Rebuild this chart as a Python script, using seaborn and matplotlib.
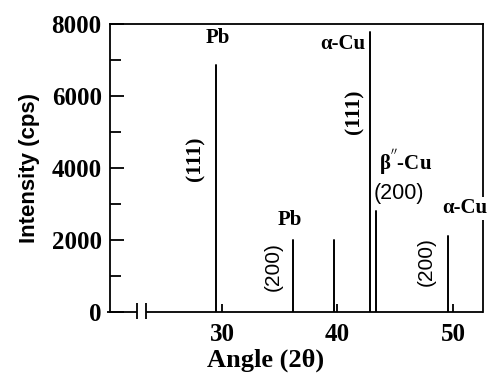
import matplotlib
matplotlib.use("Agg")
import matplotlib.pyplot as plt
import seaborn as sns
import pandas as pd
from matplotlib.ticker import MultipleLocator

# ---- data ----
peak_names = ["Pb(111)", "Pb(200)", "peak40", "aCu(111)", "bCu(200)", "aCu(200)"]
peak_angles = [29.5, 36.15, 39.7, 42.8, 43.3, 49.55]
peak_intensity = [6850, 2000, 2000, 7780, 2800, 2100]
x_ticks = [30, 40, 50]
y_ticks = [0, 2000, 4000, 6000, 8000]

rows = []
for n, a, h in zip(peak_names, peak_angles, peak_intensity):
    rows.append({"peak": n, "angle": a, "intensity": 0})
    rows.append({"peak": n, "angle": a, "intensity": h})
df = pd.DataFrame(rows)

sns.set_theme(style="white")
plt.rcParams["font.family"] = ["Liberation Serif", "DejaVu Serif"]

fig = plt.figure(figsize=(4.92, 3.77), dpi=100)
ax = fig.add_axes([0.2236, 0.1724, 0.7581, 0.7639])

sns.lineplot(data=df, x="angle", y="intensity", units="peak", estimator=None,
             color="black", lw=1.4, ax=ax, legend=False, sort=False)

XMIN, XMAX = 20.3, 52.6
ax.set_xlim(XMIN, XMAX)
ax.set_ylim(0, 8000)
ax.set_xticks(x_ticks)
ax.set_yticks(y_ticks)
ax.yaxis.set_minor_locator(MultipleLocator(1000))

for s in ax.spines.values():
    s.set_color("black")
    s.set_linewidth(1.3)
ax.spines["bottom"].set_visible(False)
# broken bottom axis
ax.hlines(0, XMIN - 0.3, 22.6, color="black", lw=1.3, clip_on=False)
ax.hlines(0, 23.45, XMAX, color="black", lw=1.3, clip_on=False)
ax.vlines([22.6, 23.45], -200, 250, color="black", lw=1.3, clip_on=False)

ax.tick_params(axis="y", which="major", direction="in", length=10, width=1.3,
               colors="black", pad=6, labelsize=18, left=True)
ax.tick_params(axis="y", which="minor", direction="in", length=8, width=1.3,
               colors="black", left=True)
ax.tick_params(axis="x", which="major", direction="in", length=6, width=1.3,
               colors="black", pad=8, labelsize=18, bottom=True)
for lab in ax.get_xticklabels() + ax.get_yticklabels():
    lab.set_fontweight("bold")

ax.set_xlabel("Angle (2θ)", fontsize=19, fontweight="bold", color="black")
ax.xaxis.set_label_coords(0.418, -0.128)
ax.set_ylabel("Intensity (cps)", fontsize=16, fontweight="bold", color="black",
              family=["Liberation Sans", "DejaVu Sans"], labelpad=8)

bold = dict(fontweight="bold", color="black")
ax.text(29.6, 7600, "Pb", fontsize=15, ha="center", va="center", **bold)
ax.text(27.7, 4250, "(111)", fontsize=15.5, rotation=90, ha="center", va="center", **bold)
ax.text(35.9, 2550, "Pb", fontsize=15, ha="center", va="center", **bold)
ax.text(34.4, 1250, "(200)", fontsize=15, rotation=90, ha="center", va="center",
        family=["Liberation Sans", "DejaVu Sans"], color="black")
ax.text(40.5, 7450, "α-Cu", fontsize=15, ha="center", va="center", **bold)
ax.text(41.5, 5550, "(111)", fontsize=15.5, rotation=90, ha="center", va="center", **bold)
ax.text(45.9, 4150, "β$^{''}$-Cu", fontsize=15, ha="center", va="center", **bold)
ax.text(45.3, 3300, "(200)", fontsize=15.5, ha="center", va="center",
        family=["Liberation Sans", "DejaVu Sans"], color="black")
ax.text(47.7, 1400, "(200)", fontsize=15, rotation=90, ha="center", va="center",
        family=["Liberation Sans", "DejaVu Sans"], color="black")
ax.text(51.0, 2880, "α-Cu", fontsize=15, ha="center", va="center", clip_on=False,
        bbox=dict(facecolor="white", edgecolor="none", pad=1), zorder=5, **bold)

fig.savefig("out.png", dpi=100)
